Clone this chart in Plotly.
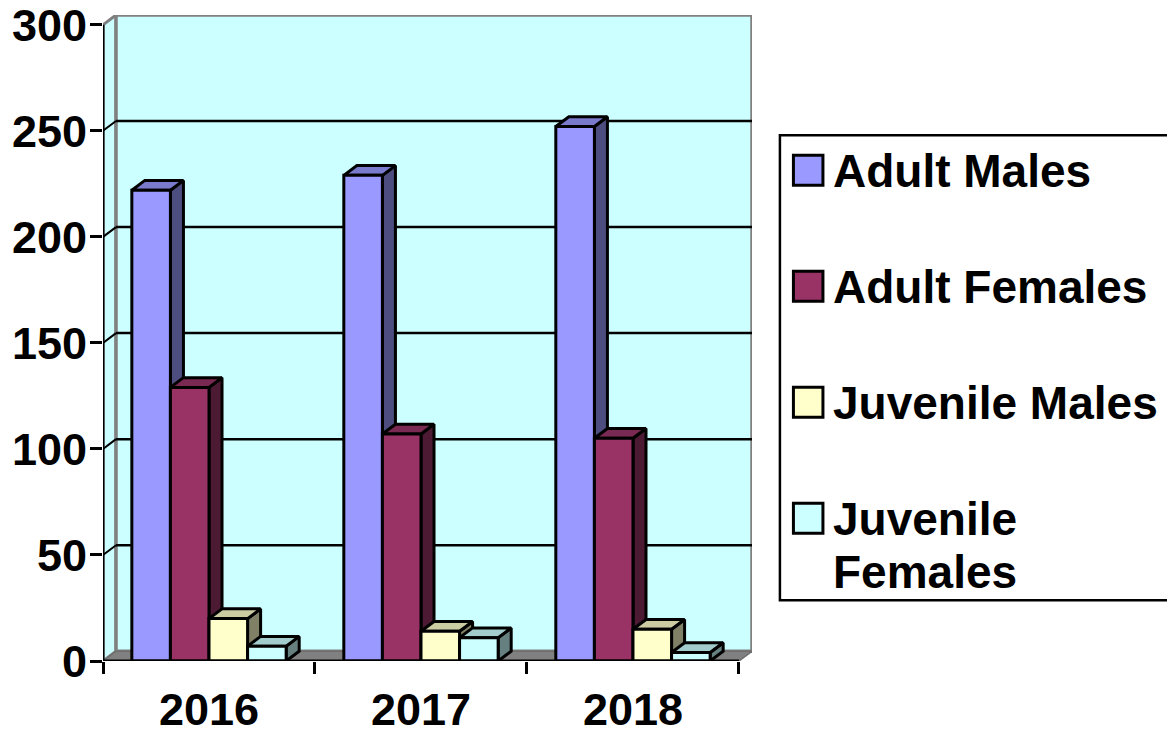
import plotly.graph_objects as go

categories = ["2016", "2017", "2018"]
series_names = ["Adult Males", "Adult Females", "Juvenile Males", "Juvenile Females"]
adult_males = [222, 229, 252]
adult_females = [129, 107, 105]
juvenile_males = [20, 14, 15]
juvenile_females = [7, 11, 4]
y_ticks = [0, 50, 100, 150, 200, 250, 300]

series_values = [adult_males, adult_females, juvenile_males, juvenile_females]

front_colors = ["#9999FF", "#993366", "#FFFFCC", "#CCFFFF"]
side_colors = ["#4D4D80", "#4D1A33", "#808066", "#668080"]
top_colors = ["#7A7ACC", "#7A2952", "#CCCCA3", "#A3CCCC"]

WIDTH, HEIGHT = 1167, 736
LEFT, RIGHT, TOP, BOTTOM = 103, 751.6, 14.7, 660.7

# depth of the fake 3D box, in axis units
DX = 13 / 211.6
DY = 4.6
BAR_W = 0.182
LINE_W = 3
FONT = "Liberation Sans"


def px(x):
    return (x - LEFT) / (RIGHT - LEFT)


def py(y):
    return (BOTTOM - y) / (BOTTOM - TOP)


fig = go.Figure()

# step 1: side and top faces, left to right, on the lower axes
for c in range(len(categories)):
    for s in range(len(series_values)):
        value = series_values[s][c]
        x0 = c + 0.5 + (s - 2) * BAR_W
        x1 = x0 + BAR_W
        fig.add_trace(go.Scatter(
            x=[x1, x1 + DX, x1 + DX, x1, x1],
            y=[0, DY, value + DY, value, 0],
            mode="lines", fill="toself", fillcolor=side_colors[s],
            line=dict(color="black", width=LINE_W), hoverinfo="skip",
        ))
        fig.add_trace(go.Scatter(
            x=[x0, x1, x1 + DX, x0 + DX, x0],
            y=[value, value, value + DY, value + DY, value],
            mode="lines", fill="toself", fillcolor=top_colors[s],
            line=dict(color="black", width=LINE_W), hoverinfo="skip",
        ))

# step 2: front faces are real bars on an overlay so they sit above the faces
for s in range(len(series_values)):
    fig.add_trace(go.Bar(
        x=[c + 0.5 + (s - 1.5) * BAR_W for c in range(len(categories))],
        y=series_values[s],
        width=BAR_W,
        name=series_names[s],
        marker=dict(color=front_colors[s], line=dict(color="black", width=LINE_W)),
        xaxis="x2", yaxis="y2",
    ))

n = len(categories)
shapes = [
    # side wall, back wall, floor
    dict(type="path", xref="x", yref="y", layer="below",
         path=f"M 0 0 L {DX} {DY} L {DX} {300 + DY} L 0 300 Z",
         fillcolor="#CCFFFF", line=dict(color="#808080", width=3)),
    dict(type="rect", xref="x", yref="y", layer="below",
         x0=DX, x1=n + DX, y0=DY, y1=300 + DY,
         fillcolor="#CCFFFF", line=dict(color="#808080", width=3.5)),
    dict(type="path", xref="x", yref="y", layer="below",
         path=f"M 0 0 L {n} 0 L {n + DX} {DY} L {DX} {DY} Z",
         fillcolor="#808080", line=dict(color="#6E6E6E", width=1.5)),
]
for t in y_ticks[1:-1]:
    shapes.append(dict(type="line", xref="x", yref="y", layer="below",
                       x0=DX, x1=n + DX, y0=t + DY, y1=t + DY,
                       line=dict(color="black", width=2.5)))
    shapes.append(dict(type="line", xref="x", yref="y", layer="below",
                       x0=0, x1=DX, y0=t, y1=t + DY,
                       line=dict(color="black", width=2)))

# step 3: the legend is drawn by hand, the built-in one cannot do these swatches
annotations = []
shapes.append(dict(type="rect", xref="paper", yref="paper",
                   x0=px(779.5), x1=px(1175), y0=py(135), y1=py(600),
                   fillcolor="white", line=dict(color="black", width=2.5)))
swatch_tops = [155, 271, 387, 503]
legend_lines = [["Adult Males"], ["Adult Females"], ["Juvenile Males"], ["Juvenile", "Females"]]
for s in range(len(series_names)):
    top = swatch_tops[s]
    shapes.append(dict(type="rect", xref="paper", yref="paper",
                       x0=px(793), x1=px(822.5), y0=py(top), y1=py(top + 30),
                       fillcolor=front_colors[s], line=dict(color="black", width=3)))
    for i, text in enumerate(legend_lines[s]):
        annotations.append(dict(
            text=f"<b>{text}</b>", xref="paper", yref="paper", showarrow=False,
            x=px(831), y=py(top + 16 + i * 53), xanchor="left", yanchor="middle",
            font=dict(family=FONT, size=46, color="black"),
        ))

fig.update_layout(
    width=WIDTH, height=HEIGHT, autosize=False,
    margin=dict(l=LEFT, r=WIDTH - RIGHT, t=TOP, b=HEIGHT - BOTTOM, pad=0),
    paper_bgcolor="white", plot_bgcolor="white",
    showlegend=False, shapes=shapes, annotations=annotations,
    font=dict(family=FONT, size=45, color="black"),
    xaxis=dict(
        range=[0, n + DX], showgrid=False, zeroline=False, automargin=False,
        tickmode="array", tickvals=[c + 0.5 for c in range(n)],
        ticktext=[f"<b>{c}</b>" for c in categories],
        ticks="outside", ticklen=9, tickcolor="rgba(0,0,0,0)",
        ticklabeloverflow="allow",
        minor=dict(tickmode="array", tickvals=list(range(n + 1)), ticks="outside",
                   ticklen=12, tickwidth=3, tickcolor="black"),
        showline=False,
    ),
    yaxis=dict(
        range=[0, 300 + DY], showgrid=False, zeroline=False, automargin=False,
        tickmode="array", tickvals=y_ticks,
        ticktext=[f"<b>{t}</b>" for t in y_ticks],
        ticks="outside", ticklen=6, tickcolor="rgba(0,0,0,0)",
        ticklabeloverflow="allow",
        minor=dict(tickmode="array", tickvals=y_ticks, ticks="outside",
                   ticklen=12, tickwidth=3, tickcolor="black"),
        showline=False,
    ),
    xaxis2=dict(range=[0, n + DX], overlaying="x", visible=False),
    yaxis2=dict(range=[0, 300 + DY], overlaying="y", visible=False),
)

# axis lines stop at the 300 tick and the last category tick, not at the wall
fig.add_trace(go.Scatter(x=[0, 0, n], y=[300, 0, 0], mode="lines",
                         line=dict(color="black", width=3), hoverinfo="skip",
                         cliponaxis=False, xaxis="x2", yaxis="y2"))

# the page's default body margin would push the whole chart by 8px
fig.write_html("out.html", config=dict(displayModeBar=False),
               post_script="document.body.style.margin='0';")
